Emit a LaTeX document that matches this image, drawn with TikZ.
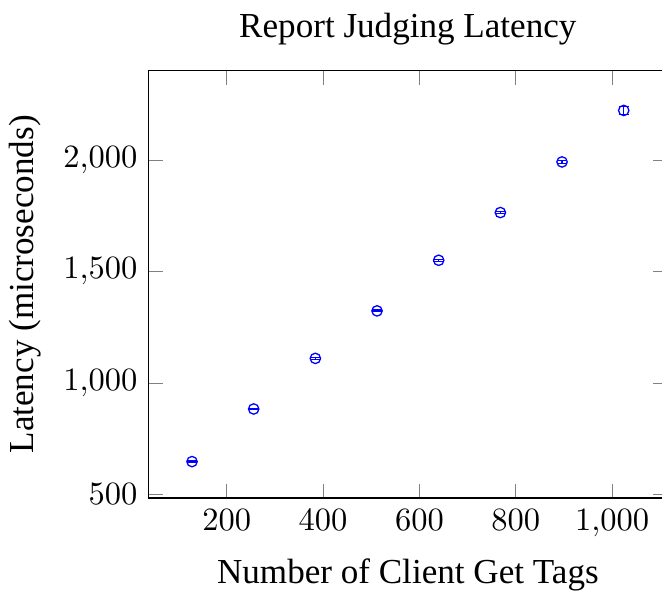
\documentclass[tikz,border=0pt]{standalone}
\usepackage{fontspec}
\setmainfont{Liberation Serif}
\usepackage{pgfplots}
\pgfplotsset{compat=1.18}

\begin{document}
\begin{tikzpicture}
    \useasboundingbox (-45.8pt,-30.5pt) rectangle (157.9pt,153.2pt);
    \begin{axis}[
        name=latency,
        scale only axis, width=159.4pt, height=131.4pt,
        title={Report Judging Latency},
        xlabel={Number of Client Get Tags},
        ylabel={Latency (microseconds)},
        title style={font=\fontsize{10.8pt}{13pt}\selectfont, yshift=-1.5pt},
        label style={font=\fontsize{10.8pt}{13pt}\selectfont},
        ]
        % mean latency with spread over the runs
        \addplot[blue, only marks, mark=o, mark size=1.6pt,
            error bars/.cd, y dir=both, y explicit]
            coordinates {
            (128,647)  +- (0,3)
            (256,883)  +- (0,3)
            (384,1110) +- (0,4)
            (512,1323) +- (0,4)
            (640,1550) +- (0,4)
            (768,1764) +- (0,5)
            (896,1991) +- (0,6)
            (1024,2222) +- (0,18)
            };
    \end{axis}
\end{tikzpicture}
\end{document}
